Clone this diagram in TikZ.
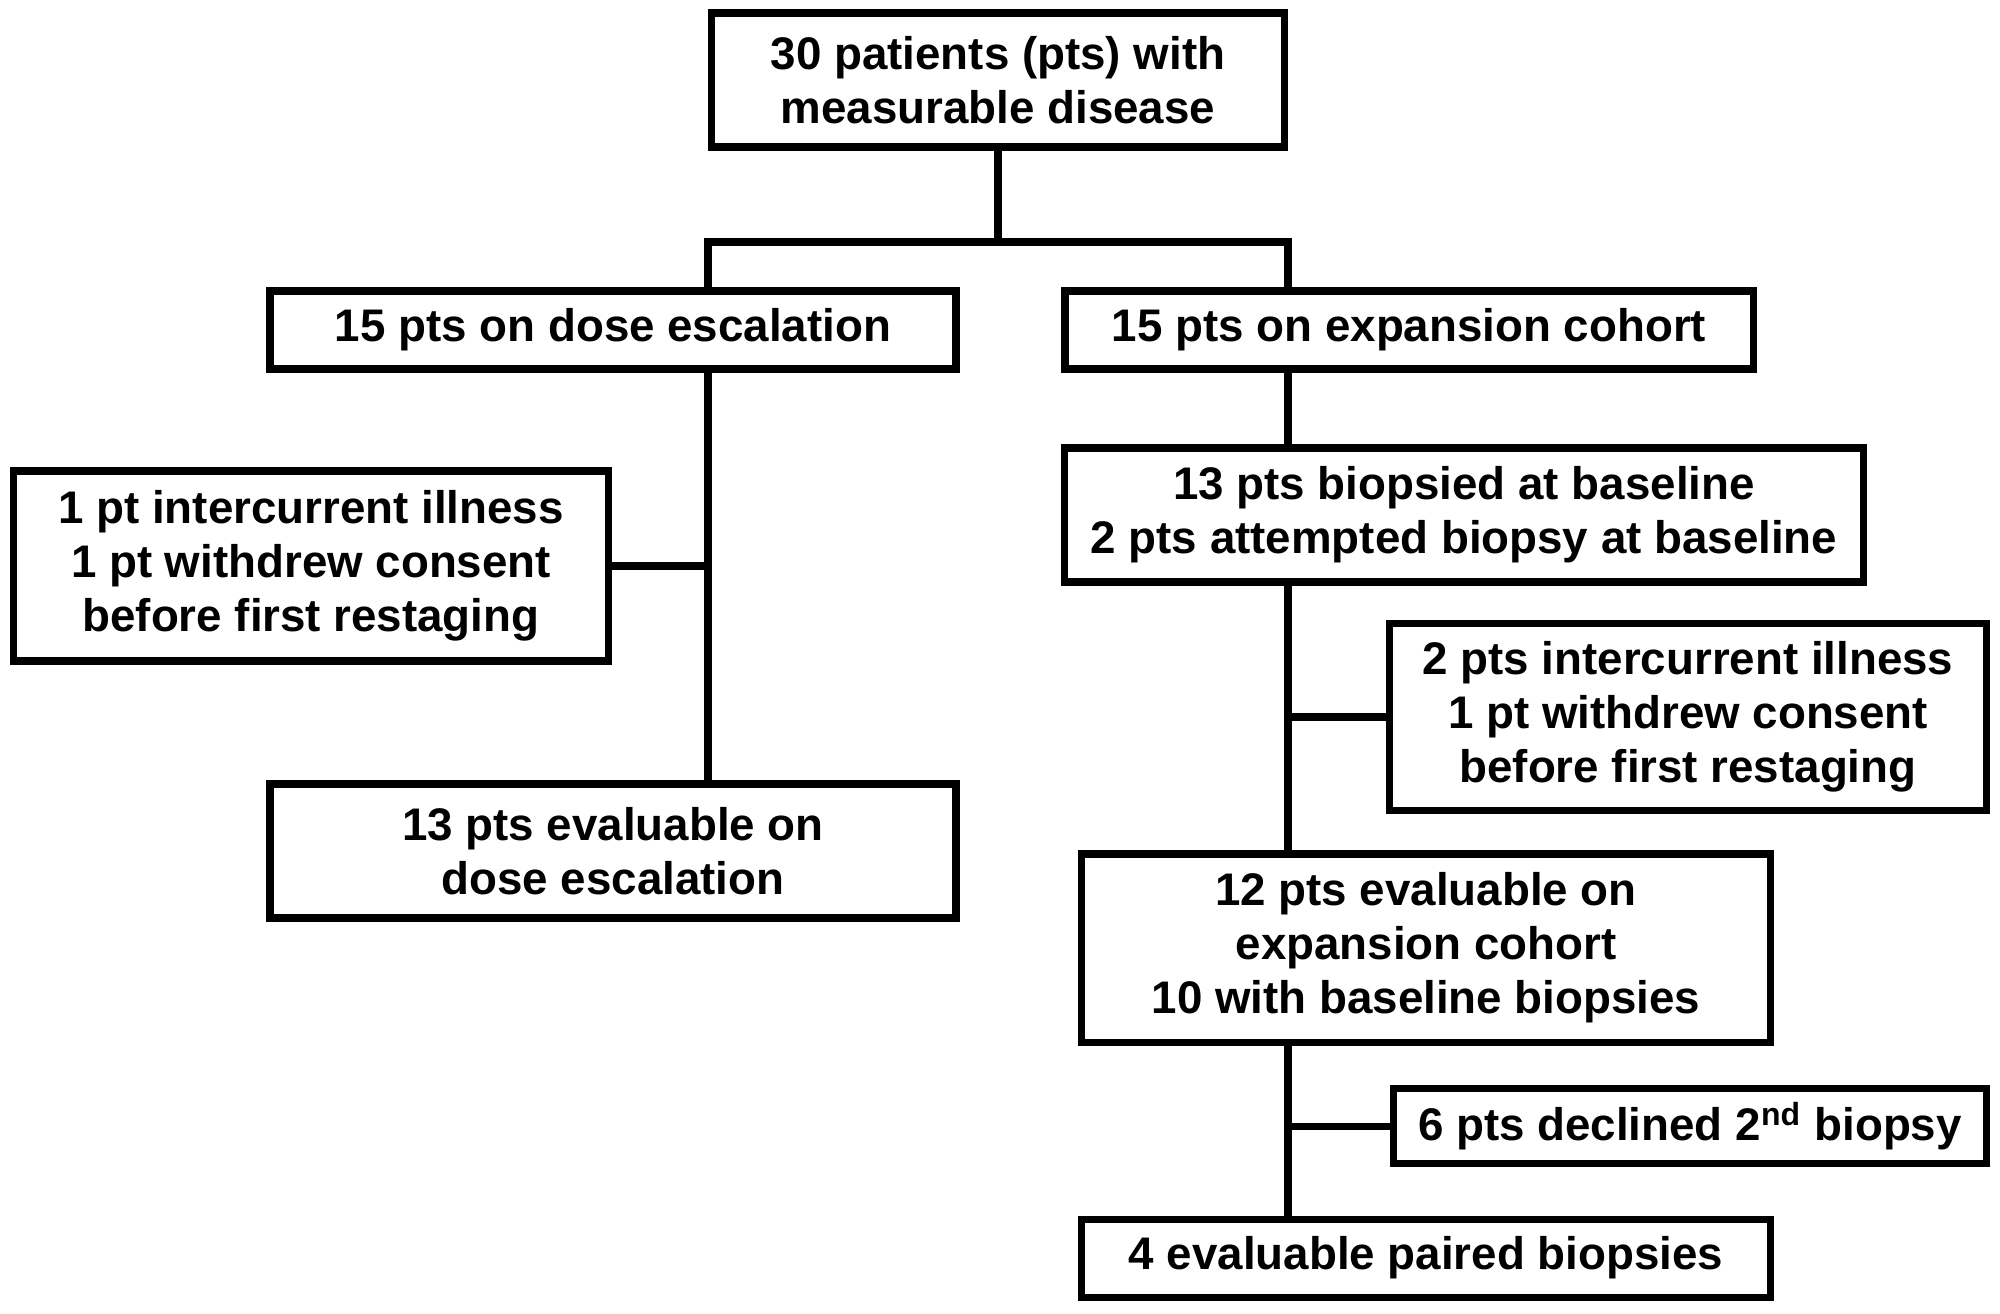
\documentclass[tikz,border=0pt]{standalone}
\usepackage{fontspec}
\setmainfont{Liberation Sans}
\usetikzlibrary{positioning, calc}
\newcommand{\sideline}[2]
{
	\draw (#1) -- (#1 -| #2)
}

\begin{document}
\begin{tikzpicture}[line width=2pt,
	box/.style={shape=rectangle, draw=black, align=center, inner sep=0pt,
		font=\fontsize{13}{15.4}\selectfont\bfseries}]

	\useasboundingbox (0,0) rectangle (20,-13.13);

	\node[box, minimum width=5.73cm, minimum height=1.34cm] at (9.98, -0.80) (T){30 patients (pts) with\\measurable disease};
	\node[box, minimum width=6.86cm, minimum height=0.78cm] at (6.13, -3.30) (E){15 pts on dose escalation};
	\node[box, minimum width=6.88cm, minimum height=0.78cm] at (14.09, -3.30) (X){15 pts on expansion cohort};
	\node[box, minimum width=5.95cm, minimum height=1.90cm] at (3.11, -5.66) (L){1 pt intercurrent illness\\1 pt withdrew consent\\before first restaging};
	\node[box, minimum width=6.86cm, minimum height=1.34cm] at (6.13, -8.51) (EE){13 pts evaluable on\\dose escalation};
	\node[box, minimum width=7.99cm, minimum height=1.34cm] at (14.64, -5.15) (B){13 pts biopsied at baseline\\2 pts attempted biopsy at baseline};
	\node[box, minimum width=5.97cm, minimum height=1.87cm] at (16.88, -7.17) (R){2 pts intercurrent illness\\1 pt withdrew consent\\before first restaging};
	\node[box, minimum width=6.89cm, minimum height=1.88cm] at (14.26, -9.48) (XE){12 pts evaluable on\\expansion cohort\\10 with baseline biopsies};
	\node[box, minimum width=5.93cm, minimum height=0.75cm] at (16.90, -11.26) (D){6 pts declined 2\textsuperscript{nd} biopsy};
	\node[box, minimum width=6.89cm, minimum height=0.78cm] at (14.26, -12.58) (P){4 evaluable paired biopsies};

	\coordinate (sl) at (7.08, -2.42);
	\coordinate (sr) at (12.88, -2.42);

	\draw (T.south) -- (T.south |- sl);
	\draw (sl |- E.north) -- (sl) -- (sr) -- (sr |- X.north);
	\draw (sl |- E.south) -- (sl |- EE.north);
	\draw (sr |- X.south) -- (sr |- B.north);
	\draw (sr |- B.south) -- (sr |- XE.north);
	\draw (sr |- XE.south) -- (sr |- P.north);
	\sideline{L.east}{sl};
	\sideline{R.west}{sr};
	\sideline{D.west}{sr};
\end{tikzpicture}
\end{document}
